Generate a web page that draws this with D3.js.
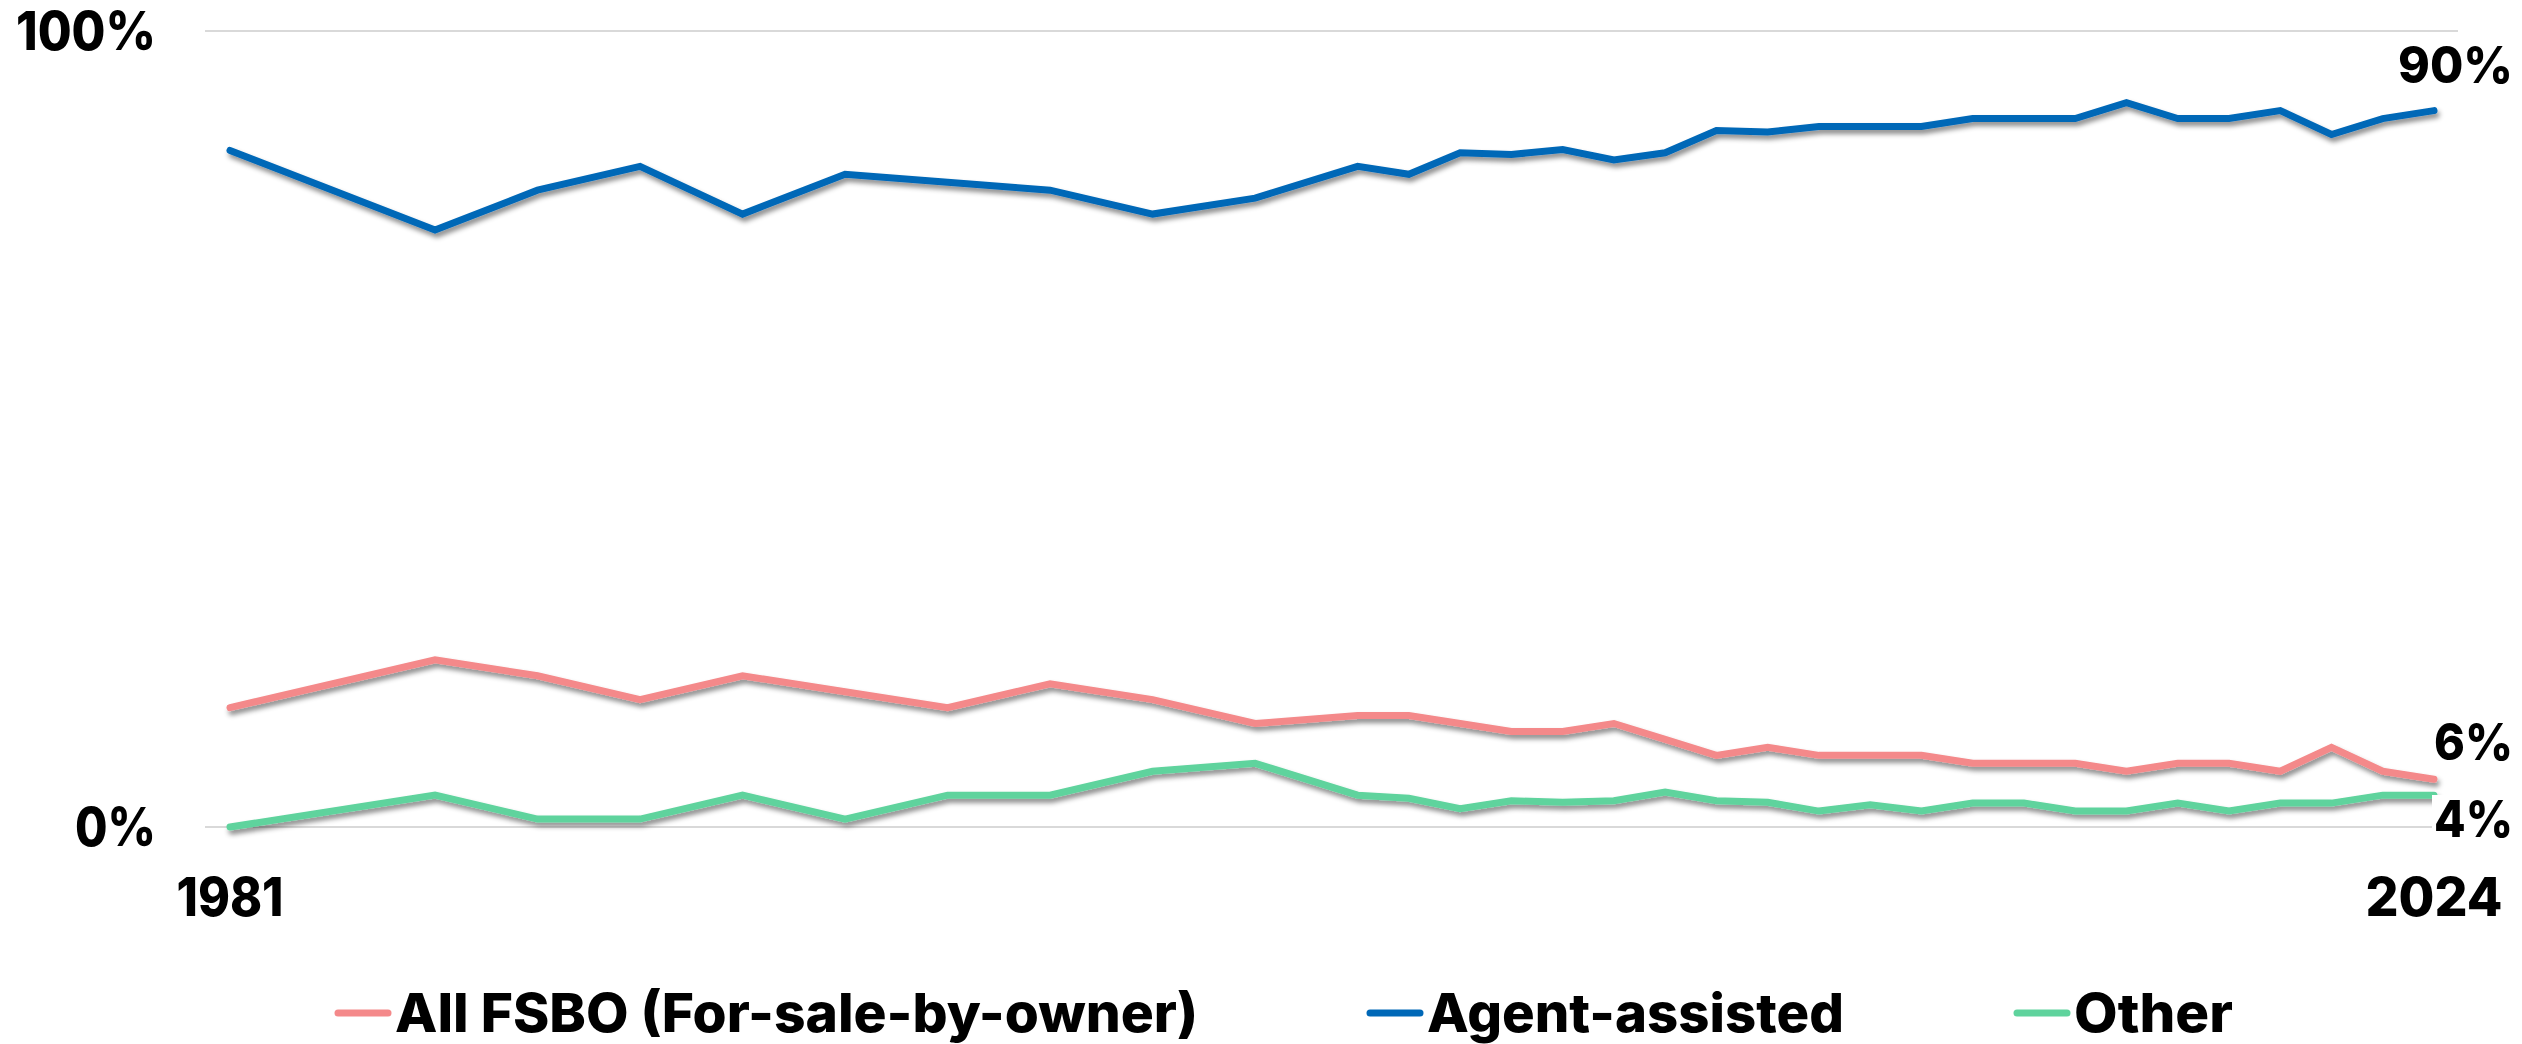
<!DOCTYPE html>
<html>
<head>
<meta charset="utf-8">
<script src="https://cdn.jsdelivr.net/npm/d3@7"></script>
<style>
  body { margin: 0; background: #fff; }
  text { font-family: Inter, "Open Sans", sans-serif; font-weight: 800; fill: #000; }
</style>
</head>
<body>
<svg id="chart"></svg>
<script>
var w = 2522;
var h = 1044;

// survey years (biennial until 2001, then annual)
var years = [1981, 1985, 1987, 1989, 1991, 1993, 1995, 1997, 1999, 2001,
  2003, 2004, 2005, 2006, 2007, 2008, 2009, 2010, 2011, 2012, 2013,
  2014, 2015, 2016, 2017, 2018, 2019, 2020, 2021, 2022, 2023, 2024];
var fsbo = [15, 21, 19, 16, 19, 17, 15, 18, 16, 13,
  14, 14, 13, 12, 12, 13, 11, 9, 10, 9, 9,
  9, 8, 8, 8, 7, 8, 8, 7, 10, 7, 6];
var agent = [85, 75, 80, 83, 77, 82, 81, 80, 77, 79,
  83, 82, 84.7, 84.5, 85.1, 83.8, 84.7, 87.5, 87.3, 88, 88,
  88, 89, 89, 89, 91, 89, 89, 90, 87, 89, 90];
var other = [0, 4, 1, 1, 4, 1, 4, 4, 7, 8,
  4, 3.6, 2.3, 3.3, 3.1, 3.3, 4.4, 3.3, 3.1, 2, 2.8,
  2, 3, 3, 2, 2, 3, 2, 3, 3, 4, 4];
var seriesNames = ["All FSBO (For-sale-by-owner)", "Agent-assisted", "Other"];
var colors = ["#f4898a", "#0068b7", "#5fd39d"];
var yTicks = [0, 100];

var svg = d3.select("#chart")
    .attr("width", w)
    .attr("height", h);

var x = d3.scaleLinear().domain([1981, 2024]).range([230, 2434]);
var y = d3.scaleLinear().domain([0, 100]).range([827, 31]);

var defs = svg.append("defs");
var shadow = defs.append("filter")
    .attr("id", "shadow")
    .attr("x", "-5%").attr("y", "-50%")
    .attr("width", "110%").attr("height", "200%");
shadow.append("feDropShadow")
    .attr("dx", 2).attr("dy", 4)
    .attr("stdDeviation", 2.5)
    .attr("flood-color", "#000")
    .attr("flood-opacity", 0.45);

// gridlines
svg.append("g")
  .selectAll("line")
  .data(yTicks)
  .enter().append("line")
    .attr("x1", 205)
    .attr("x2", 2458)
    .attr("y1", d => y(d))
    .attr("y2", d => y(d))
    .style("stroke", "#d9d9d9")
    .style("stroke-width", 2);

// y tick labels
svg.append("g")
  .selectAll("text")
  .data(yTicks)
  .enter().append("text")
    .attr("x", 156)
    .attr("y", d => y(d) + 19)
    .attr("text-anchor", "end")
    .attr("font-size", 53)
    .attr("textLength", d => d === 100 ? 140 : 81)
    .attr("lengthAdjust", "spacingAndGlyphs")
    .text(d => d + "%");

// x labels, first and last year only
var xLabels = [1981, 2024];
svg.append("g")
  .selectAll("text")
  .data(xLabels)
  .enter().append("text")
    .attr("x", d => x(d))
    .attr("y", 916)
    .attr("text-anchor", "middle")
    .attr("font-size", 54)
    .attr("textLength", d => d === 1981 ? 107 : 137)
    .attr("lengthAdjust", "spacingAndGlyphs")
    .text(d => d);

var line = d3.line()
    .x(d => x(d[0]))
    .y(d => y(d[1]));

var allSeries = [fsbo, agent, other];
var lines = svg.append("g").attr("filter", "url(#shadow)");
allSeries.forEach(function (vals, i) {
    var pts = years.map((yr, j) => [yr, vals[j]]);
    lines.append("path")
        .datum(pts)
        .attr("d", line)
        .style("fill", "none")
        .style("stroke", colors[i])
        .style("stroke-width", 7)
        .style("stroke-linejoin", "miter")
        .style("stroke-linecap", "round");
});

// end labels for 2024
var endVals = [fsbo[fsbo.length - 1], agent[agent.length - 1], other[other.length - 1]];
var endY = [760, 83, 837];
var endW = [79, 115, 79];
var endLabels = svg.append("g");
endVals.forEach(function (v, i) {
    if (i === 2) {
        endLabels.append("rect")
            .attr("x", 2432).attr("y", 795)
            .attr("width", 40).attr("height", 45)
            .style("fill", "#fff");
    }
    endLabels.append("text")
        .attr("x", 2513)
        .attr("y", endY[i])
        .attr("text-anchor", "end")
        .attr("font-size", 51)
        .attr("textLength", endW[i])
        .attr("lengthAdjust", "spacingAndGlyphs")
        .text(v + "%");
});

// legend
var legendX = [335, 1367, 2014];
var legendW = [803, 417, 159];
var legend = svg.append("g");
seriesNames.forEach(function (name, i) {
    legend.append("line")
        .attr("x1", legendX[i] + 3)
        .attr("x2", legendX[i] + 53)
        .attr("y1", 1013)
        .attr("y2", 1013)
        .style("stroke", colors[i])
        .style("stroke-width", 7)
        .style("stroke-linecap", "round");
    legend.append("text")
        .attr("x", legendX[i] + 60)
        .attr("y", 1032)
        .attr("font-size", 54)
        .attr("font-weight", 700)
        .attr("textLength", legendW[i])
        .attr("lengthAdjust", "spacingAndGlyphs")
        .text(name);
});
</script>
</body>
</html>
